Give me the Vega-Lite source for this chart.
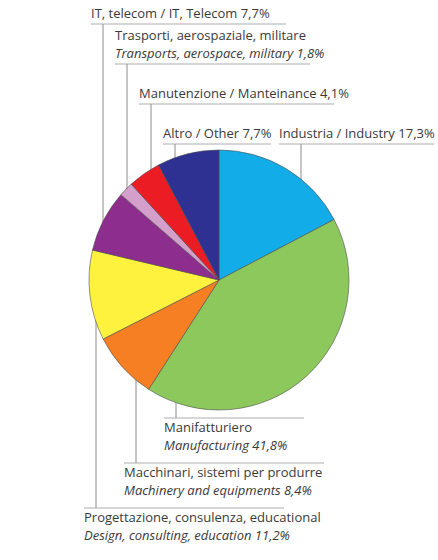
{
  "$schema": "https://vega.github.io/schema/vega-lite/v6.json",
  "width": 438,
  "height": 560,
  "padding": 0,
  "background": "white",
  "config": {"view": {"stroke": null}, "font": "Open Sans", "text": {"font": "Open Sans", "fontSize": 13, "color": "#3a3a3a"}, "scale": {"pointPadding": 0}},
  "data": {"values": [
    {"it": "Industria", "l1": "Industria / Industry 17,3%", "l2": "", "pct": 17.3, "ord": 1},
    {"it": "Manifatturiero", "l1": "Manifatturiero", "l2": "Manufacturing 41,8%", "pct": 41.8, "ord": 2},
    {"it": "Macchinari, sistemi per produrre", "l1": "Macchinari, sistemi per produrre", "l2": "Machinery and equipments 8,4%", "pct": 8.4, "ord": 3},
    {"it": "Progettazione, consulenza, educational", "l1": "Progettazione, consulenza, educational", "l2": "Design, consulting, education 11,2%", "pct": 11.2, "ord": 4},
    {"it": "IT, telecom", "l1": "IT, telecom / IT, Telecom 7,7%", "l2": "", "pct": 7.7, "ord": 5},
    {"it": "Trasporti, aerospaziale, militare", "l1": "Trasporti, aerospaziale, militare", "l2": "Transports, aerospace, military 1,8%", "pct": 1.8, "ord": 6},
    {"it": "Manutenzione", "l1": "Manutenzione / Manteinance 4,1%", "l2": "", "pct": 4.1, "ord": 7},
    {"it": "Altro", "l1": "Altro / Other 7,7%", "l2": "", "pct": 7.7, "ord": 8}
  ]},
  "layer": [
    {
      "transform": [{"filter": {"field": "it", "oneOf": ["IT, telecom", "Trasporti, aerospaziale, militare", "Manutenzione", "Altro"]}}],
      "encoding": {
        "x": {"field": "it", "type": "nominal", "axis": null, "scale": {"type": "point", "padding": 0, "domain": ["IT, telecom", "Trasporti, aerospaziale, militare", "Manutenzione", "Altro"], "range": [91, 163]}},
        "y": {"field": "it", "type": "nominal", "axis": null, "scale": {"type": "point", "padding": 0, "domain": ["IT, telecom", "Trasporti, aerospaziale, militare", "Manutenzione", "Altro"], "range": [24, 144]}}
      },
      "layer": [
        {"mark": {"type": "rule", "color": "#8c8c8c", "strokeWidth": 1, "xOffset": 12}, "encoding": {"y2": {"value": {"expr": "height/2"}}}},
        {"transform": [{"filter": "datum.it != 'Altro'"}], "mark": {"type": "tick", "orient": "horizontal", "size": 195, "thickness": 1, "xOffset": 97.5, "color": "#8c8c8c"}},
        {"transform": [{"filter": "datum.it == 'Altro'"}], "mark": {"type": "tick", "orient": "horizontal", "size": 108, "thickness": 1, "xOffset": 54, "color": "#8c8c8c"}},
        {"transform": [{"filter": "datum.l2 == ''"}], "mark": {"type": "text", "align": "left", "baseline": "bottom", "dy": -3}, "encoding": {"text": {"field": "l1"}}},
        {"transform": [{"filter": "datum.l2 != ''"}], "mark": {"type": "text", "align": "left", "baseline": "bottom", "dy": -21}, "encoding": {"text": {"field": "l1"}}},
        {"transform": [{"filter": "datum.l2 != ''"}], "mark": {"type": "text", "align": "left", "baseline": "bottom", "dy": -3, "fontStyle": "italic"}, "encoding": {"text": {"field": "l2"}}}
      ]
    },
    {
      "transform": [{"filter": {"field": "it", "oneOf": ["Industria"]}}],
      "encoding": {
        "x": {"field": "it", "type": "nominal", "axis": null, "scale": {"type": "point", "padding": 0, "domain": ["Industria"], "range": [279, 279]}},
        "y": {"field": "it", "type": "nominal", "axis": null, "scale": {"type": "point", "padding": 0, "domain": ["Industria"], "range": [144, 144]}}
      },
      "layer": [
        {"mark": {"type": "rule", "color": "#8c8c8c", "strokeWidth": 1, "xOffset": 22}, "encoding": {"y2": {"value": {"expr": "height/2"}}}},
        {"mark": {"type": "tick", "orient": "horizontal", "size": 155, "thickness": 1, "xOffset": 77.5, "color": "#8c8c8c"}},
        {"mark": {"type": "text", "align": "left", "baseline": "bottom", "dy": -3}, "encoding": {"text": {"field": "l1"}}}
      ]
    },
    {
      "transform": [{"filter": {"field": "it", "oneOf": ["Manifatturiero", "Macchinari, sistemi per produrre", "Progettazione, consulenza, educational"]}}],
      "encoding": {
        "x": {"field": "it", "type": "nominal", "axis": null, "scale": {"type": "point", "padding": 0, "domain": ["Progettazione, consulenza, educational", "Macchinari, sistemi per produrre", "Manifatturiero"], "range": [84, 164]}},
        "y": {"field": "it", "type": "nominal", "axis": null, "scale": {"type": "point", "padding": 0, "domain": ["Manifatturiero", "Macchinari, sistemi per produrre", "Progettazione, consulenza, educational"], "range": [418, 508]}}
      },
      "layer": [
        {"mark": {"type": "rule", "color": "#8c8c8c", "strokeWidth": 1, "xOffset": 12}, "encoding": {"y2": {"value": {"expr": "height/2"}}}},
        {"transform": [{"filter": "datum.it == 'Manifatturiero'"}], "mark": {"type": "tick", "orient": "horizontal", "size": 140, "thickness": 1, "xOffset": 70, "color": "#8c8c8c"}},
        {"transform": [{"filter": "datum.it != 'Manifatturiero'"}], "mark": {"type": "tick", "orient": "horizontal", "size": 200, "thickness": 1, "xOffset": 100, "color": "#8c8c8c"}},
        {"mark": {"type": "text", "align": "left", "baseline": "top", "dy": 4}, "encoding": {"text": {"field": "l1"}}},
        {"mark": {"type": "text", "align": "left", "baseline": "top", "dy": 22, "fontStyle": "italic"}, "encoding": {"text": {"field": "l2"}}}
      ]
    },
    {
      "mark": {"type": "arc", "outerRadius": 130, "stroke": "#4d4d4d", "strokeWidth": 0.6},
      "encoding": {
        "theta": {"field": "pct", "type": "quantitative", "stack": true},
        "order": {"field": "ord", "type": "quantitative", "sort": "ascending"},
        "color": {"field": "it", "type": "nominal", "legend": null, "scale": {
          "domain": ["Industria", "Manifatturiero", "Macchinari, sistemi per produrre", "Progettazione, consulenza, educational", "IT, telecom", "Trasporti, aerospaziale, militare", "Manutenzione", "Altro"],
          "range": ["#12ace8", "#8dc85c", "#f57f22", "#fff23e", "#8d2d8e", "#d49fcb", "#ec1c24", "#2e3192"]
        }}
      }
    }
  ],
  "resolve": {"scale": {"x": "independent", "y": "independent"}}
}
